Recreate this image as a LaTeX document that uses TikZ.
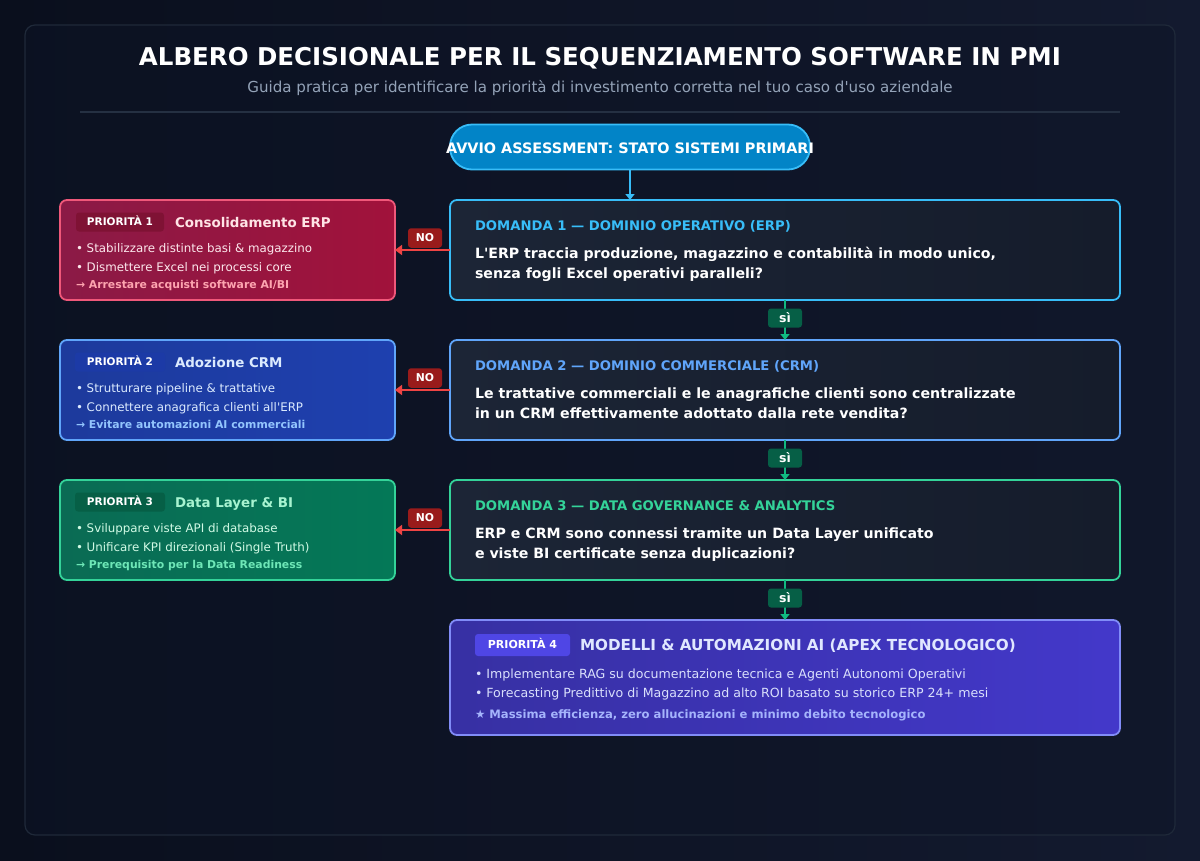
\documentclass[tikz,border=0pt]{standalone}
\usepackage{fontspec}
\setmainfont{DejaVu Sans}[Ligatures=TeXOff]
\usetikzlibrary{arrows.meta}
\newcommand\fsz[1]{\fontsize{#1}{#1}\selectfont}
\definecolor{bgA}{HTML}{0A0F1D}
\definecolor{bgB}{HTML}{131A2F}
\definecolor{panelfill}{HTML}{0E1527}
\definecolor{panelline}{HTML}{1F2939}
\definecolor{subgray}{HTML}{94A3B8}
\definecolor{sepline}{HTML}{253042}
\definecolor{pillfill}{HTML}{0284C7}
\definecolor{sky}{HTML}{38BDF8}
\definecolor{blue4}{HTML}{60A5FA}
\definecolor{emer}{HTML}{34D399}
\definecolor{qA}{HTML}{1C2536}
\definecolor{qB}{HTML}{151C2B}
\definecolor{yesline}{HTML}{10B981}
\definecolor{yesfill}{HTML}{065F46}
\definecolor{noline}{HTML}{EF4444}
\definecolor{nofill}{HTML}{991B1B}
\definecolor{pAa}{HTML}{8B1A46}
\definecolor{pAb}{HTML}{A1123B}
\definecolor{pAline}{HTML}{F0587A}
\definecolor{pAbadge}{HTML}{7F1234}
\definecolor{pAtitle}{HTML}{FFE4E6}
\definecolor{pAtext}{HTML}{FCE7EC}
\definecolor{pAarrow}{HTML}{FDA4AF}
\definecolor{pBa}{HTML}{1D3A9C}
\definecolor{pBb}{HTML}{1E40AF}
\definecolor{pBbadge}{HTML}{1C3AA6}
\definecolor{pBtitle}{HTML}{DBEAFE}
\definecolor{pBarrow}{HTML}{93C5FD}
\definecolor{pCa}{HTML}{0A6B54}
\definecolor{pCb}{HTML}{047857}
\definecolor{pCbadge}{HTML}{065F46}
\definecolor{pCtitle}{HTML}{A7F3D0}
\definecolor{pCtext}{HTML}{D1FAE5}
\definecolor{pCarrow}{HTML}{6EE7B7}
\definecolor{pDa}{HTML}{3730A3}
\definecolor{pDb}{HTML}{4338CA}
\definecolor{pDline}{HTML}{818CF8}
\definecolor{pDbadge}{HTML}{4F46E5}
\definecolor{pDtitle}{HTML}{E0E7FF}
\definecolor{pDtext}{HTML}{D9DFFC}
\definecolor{pDstar}{HTML}{A5B4FC}
\begin{document}
\begin{tikzpicture}[x=1pt,y=-1pt,
  every node/.style={inner sep=0pt, outer sep=0pt},
  txt/.style={anchor=base west},
  qbox/.style={draw=#1, line width=1.8pt, rounded corners=7pt, left color=qA, right color=qB,
    minimum width=670pt, minimum height=100pt, anchor=north west},
  pbox/.style={line width=1.8pt, rounded corners=7pt, minimum width=335pt, minimum height=100pt, anchor=north west},
  badge/.style={fill=#1, rounded corners=3pt, minimum height=19pt, text height=7.6pt, text depth=0pt, text=white, font=\bfseries\fsz{10.5}},
  qtitle/.style={txt, text=#1, font=\bfseries\fsz{13.2}},
  qbody/.style={txt, text=white, font=\bfseries\fsz{14.15}},
  ptitle/.style={txt, text=#1, font=\bfseries\fsz{13.4}},
  pbul/.style={txt, text=#1, font=\fsz{11.85}},
  parr/.style={txt, text=#1, font=\bfseries\fsz{10.85}},
  yes/.style={draw=yesline, line width=2pt, -{Triangle[length=6pt,width=9pt]}},
  no/.style={draw=noline, line width=2pt, -{Triangle[length=7pt,width=10pt]}},
  yesbadge/.style={fill=yesfill, rounded corners=3pt, minimum width=34pt, minimum height=19pt, text height=8.5pt, text depth=0pt, text=white, font=\bfseries\fsz{12.5}},
  nobadge/.style={fill=nofill, rounded corners=3pt, minimum width=34pt, minimum height=19.5pt, text height=7.6pt, text depth=0pt, text=white, font=\bfseries\fsz{10.8}},
]
\useasboundingbox (0,0) rectangle (1200,860);
\shade[left color=bgA, right color=bgB] (0,0) rectangle (1200,860);
\fill[panelfill, opacity=0.45, rounded corners=10pt] (25,25) rectangle (1175,835);
\draw[panelline, line width=1.2pt, rounded corners=10pt] (25,25) rectangle (1175,835);

% header
\node[anchor=base, text=white, font=\bfseries\fsz{24.5}] (title) at (600,65.5) {ALBERO DECISIONALE PER IL SEQUENZIAMENTO SOFTWARE IN PMI};
\node[anchor=base, text=subgray, font=\fsz{15.1}] (subtitle) at (600,92) {Guida pratica per identificare la priorità di investimento corretta nel tuo caso d'uso aziendale};
\draw[sepline, line width=1.5pt] (80,112) -- (1120,112);

% start pill
\node[fill=pillfill, draw=sky, line width=1.8pt, rounded corners=22pt, minimum width=360pt, minimum height=45pt, anchor=north west] (start) at (450,124.5) {};
\node[anchor=base, text=white, font=\bfseries\fsz{14.4}] (starttxt) at (630,153) {AVVIO ASSESSMENT: STATO SISTEMI PRIMARI};

% question boxes
\node[qbox=sky] (q1) at (450,200) {};
\node[qbox=blue4] (q2) at (450,340) {};
\node[qbox=emer] (q3) at (450,480) {};

\node[qtitle=sky] (q1t) at (475,230.7) {DOMANDA 1 — DOMINIO OPERATIVO (ERP)};
\node[qbody] (q1a) at (475,258) {L'ERP traccia produzione, magazzino e contabilità in modo unico,};
\node[qbody] (q1b) at (475,278) {senza fogli Excel operativi paralleli?};

\node[qtitle=blue4] (q2t) at (475,370.7) {DOMANDA 2 — DOMINIO COMMERCIALE (CRM)};
\node[qbody] (q2a) at (475,398) {Le trattative commerciali e le anagrafiche clienti sono centralizzate};
\node[qbody] (q2b) at (475,418) {in un CRM effettivamente adottato dalla rete vendita?};

\node[qtitle=emer] (q3t) at (475,510.7) {DOMANDA 3 — DATA GOVERNANCE \& ANALYTICS};
\node[qbody] (q3a) at (475,538) {ERP e CRM sono connessi tramite un Data Layer unificato};
\node[qbody] (q3b) at (475,558) {e viste BI certificate senza duplicazioni?};

% priority boxes (left)
\node[pbox, draw=pAline, left color=pAa, right color=pAb] (p1) at (60,200) {};
\node[badge=pAbadge, minimum width=88pt] (p1b) at (120,222) {PRIORITÀ 1};
\node[ptitle=pAtitle] (p1t) at (175,227) {Consolidamento ERP};
\node[pbul=pAtext] (p1u1) at (76,252) {• Stabilizzare distinte basi \& magazzino};
\node[pbul=pAtext] (p1u2) at (76,271) {• Dismettere Excel nei processi core};
\node[parr=pAarrow] (p1a) at (76,288) {→ Arrestare acquisti software AI/BI};

\node[pbox, draw=blue4, left color=pBa, right color=pBb] (p2) at (60,340) {};
\node[badge=pBbadge, minimum width=90pt] (p2b) at (120,362) {PRIORITÀ 2};
\node[ptitle=pBtitle] (p2t) at (175,367) {Adozione CRM};
\node[pbul=pBtitle] (p2u1) at (76,392) {• Strutturare pipeline \& trattative};
\node[pbul=pBtitle] (p2u2) at (76,411) {• Connettere anagrafica clienti all'ERP};
\node[parr=pBarrow] (p2a) at (76,428) {→ Evitare automazioni AI commerciali};

\node[pbox, draw=emer, left color=pCa, right color=pCb] (p3) at (60,480) {};
\node[badge=pCbadge, minimum width=90pt] (p3b) at (120,502) {PRIORITÀ 3};
\node[ptitle=pCtitle] (p3t) at (175,507) {Data Layer \& BI};
\node[pbul=pCtext] (p3u1) at (76,532) {• Sviluppare viste API di database};
\node[pbul=pCtext] (p3u2) at (76,551) {• Unificare KPI direzionali (Single Truth)};
\node[parr=pCarrow] (p3a) at (76,568) {→ Prerequisito per la Data Readiness};

% priority 4
\node[pbox, draw=pDline, left color=pDa, right color=pDb, minimum width=670pt, minimum height=115pt] (p4) at (450,620) {};
\node[badge=pDbadge, minimum width=95pt, minimum height=22pt, font=\bfseries\fsz{11}] (p4b) at (522.5,645) {PRIORITÀ 4};
\node[txt, text=pDtitle, font=\bfseries\fsz{15.2}] (p4t) at (580,650.5) {MODELLI \& AUTOMAZIONI AI (APEX TECNOLOGICO)};
\node[txt, text=pDtext, font=\fsz{12.6}] (p4u1) at (475,678) {• Implementare RAG su documentazione tecnica e Agenti Autonomi Operativi};
\node[txt, text=pDtext, font=\fsz{12.6}] (p4u2) at (475,697.5) {• Forecasting Predittivo di Magazzino ad alto ROI basato su storico ERP 24+ mesi};
\node[txt, text=pDstar, font=\bfseries\fsz{11.6}] (p4s) at (475,718) {★ Massima efficienza, zero allucinazioni e minimo debito tecnologico};

% connectors
\draw[draw=sky, line width=2pt, -{Triangle[length=6pt,width=9pt]}] (start.south) -- (start.south |- q1.north);
\draw[yes] ([xshift=335pt]q1.south west) -- ([xshift=335pt]q2.north west);
\draw[yes] ([xshift=335pt]q2.south west) -- ([xshift=335pt]q3.north west);
\draw[yes] ([xshift=335pt]q3.south west) -- ([xshift=335pt]p4.north west);
\node[yesbadge] (y1) at (785,318) {sì};
\node[yesbadge] (y2) at (785,458) {sì};
\node[yesbadge] (y3) at (785,598) {sì};

\draw[no] (q1.west) -- (p1.east);
\draw[no] (q2.west) -- (p2.east);
\draw[no] (q3.west) -- (p3.east);
\node[nobadge] (n1) at (425,238) {NO};
\node[nobadge] (n2) at (425,378) {NO};
\node[nobadge] (n3) at (425,518) {NO};
\end{tikzpicture}
\end{document}
